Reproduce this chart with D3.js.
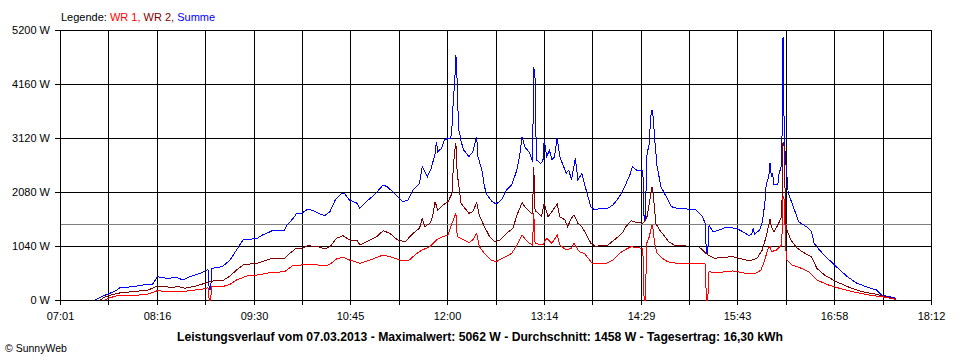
<!DOCTYPE html>
<html>
<head>
<meta charset="utf-8">
<script src="https://cdn.jsdelivr.net/npm/d3@7"></script>
<style>
body { margin: 0; background: #fff; }
text { font-family: Arial, "Liberation Sans", sans-serif; font-size: 11px; fill: #000; }
</style>
</head>
<body>
<script>
// values (W)
var summeTimes = ["7:28","7:36","7:40","7:45","7:47","7:57","8:05","8:12","8:16","8:23","8:31","8:36","8:41","8:49","8:54","8:55","8:56","8:57","8:58","9:06","9:12","9:17","9:22","9:27","9:33","9:37","9:43","9:45","9:50","9:54","9:56","10:00","10:03","10:07","10:12","10:16","10:20","10:25","10:29","10:33","10:38","10:40","10:44","10:50","10:52","10:57","11:03","11:10","11:13","11:20","11:25","11:29","11:33","11:38","11:40","11:42","11:44","11:47","11:50","11:51","11:52","11:55","11:57","12:00","12:02","12:03","12:04","12:05","12:06","12:07","12:08","12:09","12:10","12:12","12:16","12:19","12:22","12:23","12:26","12:28","12:30","12:34","12:37","12:41","12:45","12:49","12:53","12:55","12:57","12:59","13:03","13:05","13:06","13:07","13:08","13:11","13:13","13:14","13:16","13:18","13:20","13:22","13:24","13:26","13:28","13:31","13:33","13:35","13:38","13:40","13:43","13:45","13:47","13:50","13:53","13:57","14:02","14:07","14:12","14:16","14:20","14:22","14:25","14:27","14:30","14:31","14:32","14:33","14:34","14:35","14:36","14:37","14:38","14:39","14:41","14:44","14:48","14:52","14:58","15:04","15:11","15:16","15:18","15:19","15:20","15:21","15:24","15:29","15:34","15:42","15:47","15:52","15:54","15:55","15:56","16:00","16:02","16:04","16:05","16:07","16:08","16:09","16:10","16:11","16:14","16:15","16:17","16:18","16:19","16:20","16:21","16:22","16:25","16:30","16:36","16:40","16:42","16:46","16:51","16:59","17:07","17:14","17:22","17:30","17:34","17:40","17:45"]
var summeW = [0,96,135,193,237,256,289,289,449,418,430,385,449,514,578,578,193,193,611,641,770,963,1156,1169,1188,1252,1315,1348,1335,1348,1445,1554,1656,1670,1753,1720,1670,1624,1701,1926,2055,2055,1926,1862,1766,1893,2022,2215,2182,2022,1893,1926,2119,2248,2567,2471,2375,2537,2825,3049,2856,2922,3082,3114,3114,3338,3850,4174,4720,4200,3300,3200,3050,2890,2760,2856,3145,2760,2504,2182,2022,1893,1849,1926,2119,2215,2504,2760,3145,2953,2825,2664,4490,4260,2700,2633,2664,3082,2760,2889,2696,2760,3114,2760,2633,2440,2504,2311,2729,2311,2440,2248,2055,1797,1733,1766,1753,1830,1990,2182,2408,2567,2504,2485,2504,1541,1541,2760,2900,3018,3530,3660,3530,3145,2567,2182,1990,1797,1753,1753,1733,1604,1477,900,900,1445,1315,1348,1400,1381,1315,1238,1271,1381,1271,1348,1489,1862,2215,2375,2644,2375,2440,2215,2215,2440,2600,5062,3082,2700,2400,2055,1862,1508,1412,1315,1092,963,834,642,462,333,256,193,96,64,33]

var wr2Times = ["7:32","7:36","7:45","7:49","7:57","8:09","8:16","8:26","8:33","8:37","8:46","8:55","8:59","9:06","9:12","9:17","9:22","9:27","9:33","9:37","9:43","9:54","9:58","10:03","10:07","10:12","10:20","10:25","10:29","10:34","10:39","10:44","10:50","10:52","11:00","11:05","11:10","11:15","11:21","11:27","11:33","11:38","11:40","11:42","11:46","11:48","11:50","11:52","11:56","12:00","12:03","12:04","12:05","12:06","12:07","12:08","12:10","12:12","12:16","12:19","12:22","12:24","12:28","12:32","12:36","12:40","12:45","12:50","12:53","12:57","13:00","13:04","13:05","13:06","13:07","13:08","13:12","13:14","13:17","13:20","13:24","13:26","13:30","13:32","13:35","13:37","13:40","13:43","13:46","13:50","13:54","13:57","14:03","14:08","14:14","14:17","14:21","14:25","14:30","14:33","14:35","14:37","14:38","14:40","14:43","14:47","14:50","14:54","15:03","15:08","15:13","15:16","15:20","15:25","15:29","15:39","15:44","15:52","15:54","15:58","16:02","16:05","16:07","16:08","16:09","16:11","16:14","16:17","16:18","16:19","16:20","16:21","16:24","16:29","16:34","16:40","16:44","16:50","16:59","17:09","17:19","17:30","17:37","17:45"]
var wr2W = [0,64,129,141,160,193,270,245,256,225,270,341,366,366,462,578,674,693,707,738,790,803,899,996,996,1046,1027,982,1027,1188,1238,1156,1142,1059,1156,1219,1335,1285,1156,1123,1285,1381,1574,1412,1477,1604,1893,1733,1830,1893,2055,2567,2850,3018,2440,2248,1862,1797,1670,1701,1874,1637,1412,1219,1123,1156,1285,1381,1637,1874,1766,1670,1670,2567,1700,1701,1604,1862,1604,1701,1849,1604,1541,1412,1574,1637,1477,1412,1285,1092,1027,1059,1059,1156,1285,1412,1527,1496,1477,1574,1862,2182,2055,1477,1348,1219,1123,1059,1046,null,1027,963,867,803,815,834,803,757,770,803,963,1219,1445,1554,1412,1315,1445,1604,3040,2950,1477,1348,1156,996,911,834,611,482,353,245,160,110,64,13]

var wr1Times = ["7:36","7:38","7:45","7:57","8:09","8:16","8:26","8:39","8:51","8:55","8:56","8:57","8:58","9:06","9:12","9:17","9:25","9:33","9:43","9:54","10:00","10:07","10:13","10:20","10:25","10:29","10:34","10:39","10:44","10:52","11:00","11:10","11:15","11:23","11:30","11:36","11:40","11:46","11:51","11:56","12:00","12:03","12:06","12:07","12:10","12:16","12:19","12:22","12:24","12:28","12:33","12:37","12:42","12:49","12:53","12:57","13:01","13:05","13:06","13:07","13:13","13:16","13:20","13:24","13:26","13:31","13:35","13:37","13:41","13:45","13:49","13:51","13:57","14:02","14:07","14:12","14:17","14:21","14:25","14:30","14:31","14:32","14:33","14:35","14:37","14:38","14:39","14:41","14:45","14:49","14:56","15:04","15:18","15:19","15:20","15:21","15:27","15:39","15:47","15:52","15:57","16:01","16:04","16:06","16:08","16:09","16:13","16:17","16:18","16:19","16:20","16:21","16:25","16:32","16:38","16:44","16:53","17:04","17:14","17:24","17:34","17:45"]
var wr1W = [0,33,83,83,116,179,160,173,212,237,0,0,256,256,302,385,462,482,526,545,655,674,693,674,655,688,790,822,770,707,770,867,834,770,770,899,963,1027,1156,1219,1252,1477,1670,1219,1188,1104,1156,1285,1027,899,770,738,803,899,1059,1252,1123,1059,1670,1092,1059,1188,1092,1252,1059,963,996,1092,930,899,770,707,707,707,770,899,976,1027,1007,996,0,0,1092,1219,1445,1348,1092,899,803,738,707,707,693,0,0,545,526,559,526,501,514,578,770,963,1040,930,963,1059,1997,1926,1027,770,674,611,545,385,289,206,148,96,64,13]

var yTicks = [0, 1040, 2080, 3120, 4160, 5200]
var xTickLabels = ["07:01","08:16","09:30","10:45","12:00","13:14","14:29","15:43","16:58","18:12"]
var avgW = 1458

function toMin(s) {
  var p = s.split(":")
  return +p[0] * 60 + +p[1]
}

function pairs(times, vals) {
  return times.map(function(t, i) { return {t: toMin(t), w: vals[i]} })
}

var svg = d3.select("body").append("svg")
  .attr("width", 960)
  .attr("height", 360)

var x = d3.scaleLinear().domain([toMin("7:01"), toMin("18:12")]).range([60, 931])
var y = d3.scaleLinear().domain([0, 5200]).range([300, 30])

// vertical grid: 18 steps, label on every 2nd one
var nGrid = 18
var gridX = d3.range(nGrid + 1).map(function(i) {
  return Math.round(60 + i * (931 - 60) / nGrid) + 0.5
})

var grid = svg.append("g").attr("shape-rendering", "crispEdges")

grid.selectAll("line.h")
  .data(yTicks)
  .enter()
  .append("line")
  .classed("h", true)
  .attr("x1", 55)
  .attr("x2", 932)
  .attr("y1", function(d) { return Math.round(y(d)) + 0.5 })
  .attr("y2", function(d) { return Math.round(y(d)) + 0.5 })
  .attr("stroke", "#000")

grid.selectAll("line.v")
  .data(gridX)
  .enter()
  .append("line")
  .classed("v", true)
  .attr("x1", function(d) { return d })
  .attr("x2", function(d) { return d })
  .attr("y1", 30)
  .attr("y2", 305)
  .attr("stroke", "#000")

// average line
grid.append("line")
  .attr("x1", 61)
  .attr("x2", 931)
  .attr("y1", Math.round(y(avgW)) + 0.5)
  .attr("y2", Math.round(y(avgW)) + 0.5)
  .attr("stroke", "#808080")

svg.selectAll("text.ylab")
  .data(yTicks)
  .enter()
  .append("text")
  .classed("ylab", true)
  .attr("x", 50)
  .attr("y", function(d) { return y(d) + 4 })
  .attr("text-anchor", "end")
  .text(function(d) { return d + " W" })

svg.selectAll("text.xlab")
  .data(xTickLabels)
  .enter()
  .append("text")
  .classed("xlab", true)
  .attr("x", function(d, i) { return gridX[i * 2] })
  .attr("y", 320)
  .attr("text-anchor", "middle")
  .text(function(d) { return d })

var line = d3.line()
  .defined(function(d) { return d.w != null })
  .x(function(d) { return x(d.t) })
  .y(function(d) { return y(d.w) })

var series = [
  {name: "Summe", color: "#0000ff", data: pairs(summeTimes, summeW)},
  {name: "WR 2", color: "#800000", data: pairs(wr2Times, wr2W)},
  {name: "WR 1", color: "#ff0000", data: pairs(wr1Times, wr1W)}
]

svg.selectAll("path.series")
  .data(series)
  .enter()
  .append("path")
  .classed("series", true)
  .attr("d", function(d) { return line(d.data) })
  .attr("fill", "none")
  .attr("stroke", function(d) { return d.color })
  .attr("stroke-width", 1)
  .attr("shape-rendering", "crispEdges")

// legend
var leg = svg.append("text").attr("x", 61).attr("y", 21)
leg.append("tspan").text("Legende: ")
leg.append("tspan").style("fill", "#ff0000").text("WR 1, ")
leg.append("tspan").style("fill", "#800000").text("WR 2, ")
leg.append("tspan").style("fill", "#0000ff").text("Summe")

svg.append("text")
  .attr("x", 480)
  .attr("y", 341)
  .attr("text-anchor", "middle")
  .attr("textLength", 606)
  .attr("lengthAdjust", "spacingAndGlyphs")
  .style("font-weight", "bold")
  .style("font-size", "12px")
  .text("Leistungsverlauf vom 07.03.2013 - Maximalwert: 5062 W - Durchschnitt: " + avgW + " W - Tagesertrag: 16,30 kWh")

svg.append("text")
  .attr("x", 5)
  .attr("y", 352)
  .style("font-size", "10.5px")
  .text("\u00a9 SunnyWeb")
</script>
</body>
</html>
